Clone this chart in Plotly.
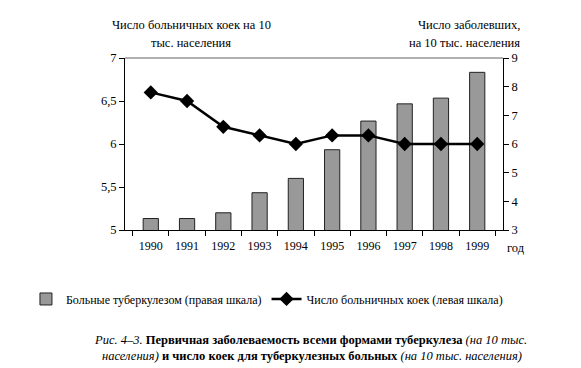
import plotly.graph_objects as go

years = ["1990", "1991", "1992", "1993", "1994", "1995", "1996", "1997", "1998", "1999"]
patients = [3.4, 3.4, 3.6, 4.3, 4.8, 5.8, 6.8, 7.4, 7.6, 8.5]
beds = [6.6, 6.5, 6.2, 6.1, 6.0, 6.1, 6.1, 6.0, 6.0, 6.0]

SERIF = "Times New Roman, serif"

fig = go.Figure()
fig.add_trace(go.Bar(
    x=years, y=patients, name="Больные туберкулезом (правая шкала)",
    marker=dict(color="#999999", line=dict(color="#222222", width=1)),
    width=0.42, yaxis="y",
))
fig.add_trace(go.Scatter(
    x=years, y=beds, name="Число больничных коек (левая шкала)",
    mode="lines+markers", line=dict(color="black", width=2.5),
    marker=dict(symbol="diamond", size=11, color="black"),
    yaxis="y2",
))

fig.update_layout(
    width=581, height=368,
    margin=dict(l=117, r=86, t=50, b=146, autoexpand=False),
    paper_bgcolor="white", plot_bgcolor="white",
    separators=", ",
    font=dict(family=SERIF, size=12, color="black"),
    showlegend=True,
    legend=dict(orientation="h", x=-0.262, y=-0.401, xanchor="left", yanchor="middle",
                font=dict(size=12, family=SERIF), itemwidth=30, bgcolor="rgba(0,0,0,0)"),
    xaxis=dict(type="category", showline=True, linecolor="black", linewidth=1,
               ticks="outside", ticklen=5, tickcolor="black", tickson="boundaries",
               ticklabelstandoff=5,
               showgrid=False, tickfont=dict(size=12, family=SERIF)),
    yaxis=dict(side="right", range=[3, 9], dtick=1, showline=True, linecolor="black",
               linewidth=1, ticks="outside", ticklen=5, tickcolor="black", showgrid=False,
               zeroline=False, tickfont=dict(size=12.5, family=SERIF)),
    yaxis2=dict(side="left", overlaying="y", range=[5, 7], dtick=0.5, showline=True,
                linecolor="black", linewidth=1, ticks="outside", ticklen=5, tickcolor="black",
                showgrid=False, zeroline=False, tickfont=dict(size=12.5, family=SERIF)),
)

fig.add_shape(type="line", xref="paper", yref="paper", x0=0, x1=1, y0=1, y1=1,
              line=dict(color="#b0b0b0", width=2))

def note(text, x, y, xanchor, size):
    fig.add_annotation(xref="paper", yref="paper", x=x, y=y, xanchor=xanchor, yanchor="middle",
                       text=text, showarrow=False, font=dict(size=size, family=SERIF))

note("Число больничных коек на 10", 0.175, 1.192, "center", 12.5)
note("тыс. населения", 0.175, 1.087, "center", 12.5)
note("Число заболевших,", 1.050, 1.192, "right", 12.5)
note("на 10 тыс. населения", 1.050, 1.087, "right", 12.5)
note("год", 1.005, -0.105, "left", 12.5)

note("<i>Рис. 4–3.</i> <b>Первичная заболеваемость всеми формами туберкулеза</b> <i>(на 10 тыс.</i>",
     -0.0873, -0.640, "left", 12.5)
note("<i>населения)</i> <b>и число коек для туберкулезных больных</b> <i>(на 10 тыс. населения)</i>",
     -0.066, -0.733, "left", 12.5)

fig.write_html("out.html")
